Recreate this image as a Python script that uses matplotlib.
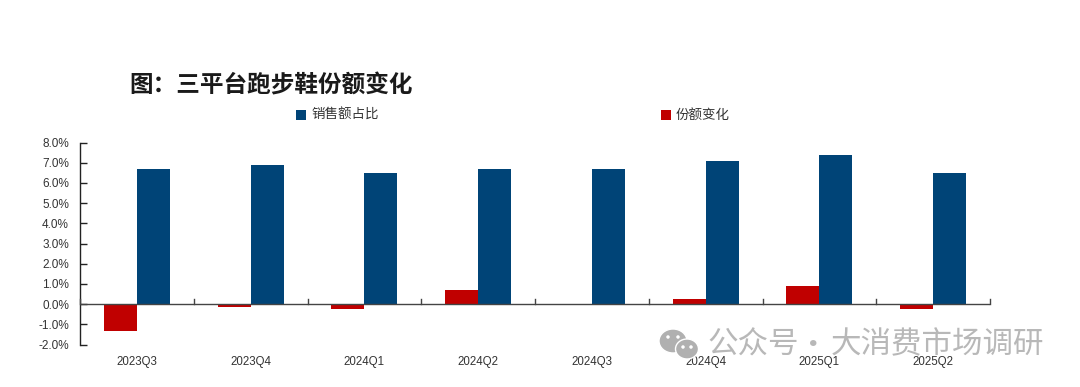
import matplotlib
matplotlib.use("Agg")
import matplotlib.pyplot as plt
from matplotlib.patches import Ellipse, Rectangle
import numpy as np

plt.rcParams['font.family'] = ['Noto Sans CJK SC', 'DejaVu Sans']

categories = ['2023Q3', '2023Q4', '2024Q1', '2024Q2', '2024Q3', '2024Q4', '2025Q1', '2025Q2']
share = [6.7, 6.9, 6.5, 6.7, 6.7, 7.1, 7.4, 6.5]
change = [-1.35, -0.13, -0.23, 0.7, 0.0, 0.25, 0.9, -0.23]
y_ticks = [-2, -1, 0, 1, 2, 3, 4, 5, 6, 7, 8]
title = '图：三平台跑步鞋份额变化'
share_name = '销售额占比'
change_name = '份额变化'
watermark = ['公众号', '·', '大消费市场调研']

W, H = 1080, 387
BLUE, RED, INK = '#004477', '#C00000', '#333333'

fig = plt.figure(figsize=(W / 100, H / 100), dpi=100, facecolor='white')
ax = fig.add_axes([80 / W, 1 - 344.5 / H, 910 / W, 202 / H])

x = np.arange(len(categories))
bw = 0.29
ax.bar(x - bw / 2, change, bw, color=RED, zorder=2)
ax.bar(x + bw / 2, share, bw, color=BLUE, zorder=2)

ax.set_xlim(-0.5, len(categories) - 0.5)
ax.set_ylim(-2, 8)
ax.set_yticks(y_ticks)
ax.set_yticklabels([f'{v:.1f}%' for v in y_ticks], fontsize=8.5, color=INK,
                   family=['Liberation Sans', 'DejaVu Sans'])
for s in ['top', 'right', 'bottom']:
    ax.spines[s].set_visible(False)
ax.spines['left'].set_linewidth(1)
ax.spines['left'].set_color('#222222')
ax.tick_params(axis='y', direction='in', length=5, width=1, pad=8, color='#222222')
ax.set_xticks([])

# zero line and its upward ticks at the category boundaries
ax.axhline(0, color='#444444', lw=1, zorder=3)
for b in np.arange(len(categories) + 1) - 0.5:
    ax.plot([b, b], [0, 0.27], color='#444444', lw=1, zorder=3, clip_on=False)
for xi, c in zip(x, categories):
    ax.text(xi, -2.88, c, ha='center', va='center', fontsize=8.3, color=INK,
            family=['Liberation Sans', 'DejaVu Sans'])

fig.text(129 / W, 1 - 85.5 / H, title, fontsize=17, fontweight='bold',
         color='#1a1a1a', ha='left', va='center')

# legend
fig.patches.append(Rectangle((296 / W, 1 - 120 / H), 10 / W, 10 / H, transform=fig.transFigure,
                             facecolor=BLUE, edgecolor='none'))
fig.text(311 / W, 1 - 115 / H, share_name, fontsize=9.7, color=INK, ha='left', va='center')
fig.patches.append(Rectangle((661 / W, 1 - 120 / H), 10 / W, 10 / H, transform=fig.transFigure,
                             facecolor=RED, edgecolor='none'))
fig.text(676 / W, 1 - 115 / H, change_name, fontsize=9.7, color=INK, ha='left', va='center')

# watermark
for tx, part, ha in zip([707, 813, 831], watermark, ['left', 'center', 'left']):
    fig.text(tx / W, 1 - 345 / H, part, fontsize=22, color='#b8b8b8', ha=ha, va='center')
for cx, cy, rx, ry, col, z in [(673, 341, 14, 12, '#b0b0b0', 5), (687, 349, 11.5, 10, '#b0b0b0', 6)]:
    fig.patches.append(Ellipse((cx / W, 1 - cy / H), 2 * rx / W, 2 * ry / H, transform=fig.transFigure,
                               facecolor=col, edgecolor='white', lw=1, zorder=z))
for ex, ey, z in [(668, 337, 7), (678, 337, 7), (683, 347, 7), (691, 347, 7)]:
    fig.patches.append(Ellipse((ex / W, 1 - ey / H), 3.5 / W, 3.5 / H, transform=fig.transFigure,
                               facecolor='white', edgecolor='none', zorder=z))

fig.savefig('out.png', dpi=100)
